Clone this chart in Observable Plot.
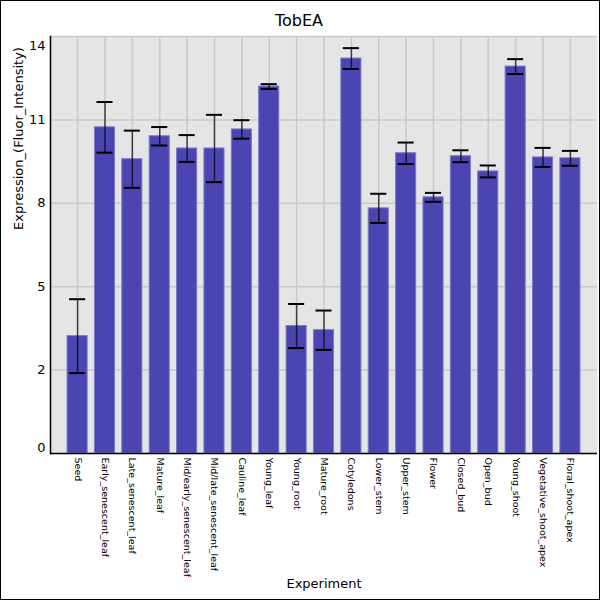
<!DOCTYPE html>
<html>
<head>
<meta charset="utf-8">
<script src="https://cdn.jsdelivr.net/npm/d3@7"></script>
<script src="https://cdn.jsdelivr.net/npm/@observablehq/plot@0.6"></script>
<style>
  html, body { margin: 0; padding: 0; background: #fff; }
  #chart svg { display: block; outline: 1px solid #000; outline-offset: -1px; }
</style>
</head>
<body>
<div id="chart"></div>
<script>
const title = "TobEA";
const xLabel = "Experiment";
const yLabel = "Expression_(Fluor_Intensity)";
const categories = ["Seed","Early_senescent_leaf","Late_senescent_leaf","Mature_leaf","Mid/early_senescent_leaf","Mid/late_senescent_leaf","Cauline_leaf","Young_leaf","Young_root","Mature_root","Cotyledons","Lower_stem","Upper_stem","Flower","Closed_bud","Open_bud","Young_shoot","Vegetative_shoot_apex","Floral_shoot_apex"];
const means = [3.94,10.95,9.88,10.65,10.24,10.24,10.88,12.32,4.28,4.14,13.26,8.23,10.08,8.60,9.98,9.47,12.99,9.94,9.91];
const errors = [1.24,0.85,0.96,0.31,0.45,1.13,0.31,0.08,0.74,0.66,0.35,0.49,0.36,0.15,0.20,0.20,0.25,0.32,0.25];
const yTicks = [0,2.8,5.6,8.4,11.2,14];

const data = categories.map((c,i) => ({cat:c, mean:means[i], lo:means[i]-errors[i], hi:means[i]+errors[i]}));
const fmt = d => String(Math.trunc(d + 1e-9));
const font = "DejaVu Sans";

const plot = Plot.plot({
  width: 600,
  height: 600,
  marginTop: 36,
  marginBottom: 147,
  marginLeft: 50,
  marginRight: 3,
  style: {fontFamily: font, background: "#fff", color: "#000"},
  x: {domain: categories, paddingInner: 0.267, paddingOuter: 0.623, round: false, axis: null},
  y: {domain: [0,14], axis: null},
  marks: [
    Plot.frame({fill: "#e5e5e5", stroke: null}),
    Plot.gridY(yTicks, {stroke: "#c9c9c9", strokeOpacity: 1, strokeWidth: 1.5}),
    Plot.gridX(categories, {stroke: "#c9c9c9", strokeOpacity: 1, strokeWidth: 1.5}),
    Plot.barY(data, {x: "cat", y: "mean", fill: "#4a45b1", stroke: "#7b77c6", strokeWidth: 1}),
    Plot.ruleX(data, {x: "cat", y1: "lo", y2: "hi", stroke: "#000", strokeOpacity: 0.7, strokeWidth: 1.5}),
    Plot.tickY(data, {x: "cat", y: "hi", stroke: "#000", strokeWidth: 2, inset: 2}),
    Plot.tickY(data, {x: "cat", y: "lo", stroke: "#000", strokeWidth: 2, inset: 2}),
    Plot.ruleY([0], {stroke: "#000", strokeWidth: 1.5}),
    Plot.frame({anchor: "left", stroke: "#000", strokeWidth: 1.5}),
    Plot.axisY([2.8,5.6,8.4,11.2], {tickSize: 0, tickPadding: 5, tickFormat: fmt, fontSize: 13, label: null}),
    Plot.axisY([0], {tickSize: 0, tickPadding: 5, tickFormat: fmt, fontSize: 13, dy: -6, label: null}),
    Plot.axisY([14], {tickSize: 0, tickPadding: 5, tickFormat: fmt, fontSize: 13, dy: 9, label: null}),
    Plot.axisX({tickSize: 0, tickPadding: 4, tickRotate: 90, fontSize: 9.5, label: null}),
    Plot.text([title], {frameAnchor: "top", lineAnchor: "middle", dy: -16, dx: -25, fontSize: 16, fill: "#000"}),
    Plot.text([xLabel], {frameAnchor: "bottom", lineAnchor: "middle", dy: 130.5, fontSize: 13, fill: "#000"}),
    Plot.text([yLabel], {frameAnchor: "left", dx: -32, dy: -15, rotate: -90, fontSize: 13, fill: "#000"})
  ]
});
document.getElementById("chart").appendChild(plot);
</script>
</body>
</html>
